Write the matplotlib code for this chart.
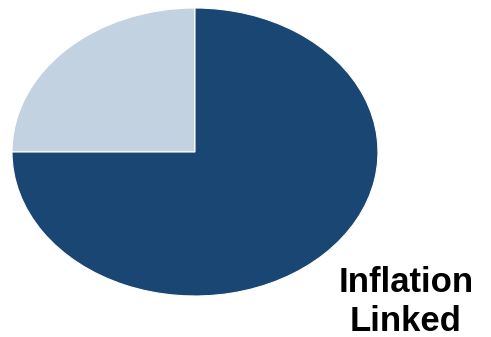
import matplotlib
matplotlib.use('Agg')
import matplotlib.pyplot as plt

labels = ['Other', 'Inflation Linked']
shares = [25, 75]
colors = ['#c3d2e0', '#1a4673']

W, H = 491, 337
fig = plt.figure(figsize=(W / 100, H / 100), dpi=100)

# ellipse: x 12..378, y 8..296 (pixels from top)
ax = fig.add_axes([12 / W, (H - 296) / H, 366 / W, 288 / H])
ax.pie(shares, colors=colors, startangle=90, counterclock=True, radius=1,
       wedgeprops=dict(edgecolor='white', linewidth=0.8))
ax.set_aspect('auto')
ax.set_xlim(-1, 1)
ax.set_ylim(-1, 1)
ax.axis('off')

fig.text(406 / W, 1 - 302 / H, 'Inflation\nLinked', ha='center', va='center',
         fontsize=25, fontweight='bold', family='Liberation Sans',
         linespacing=1.2)

fig.savefig('out.png', dpi=100)
